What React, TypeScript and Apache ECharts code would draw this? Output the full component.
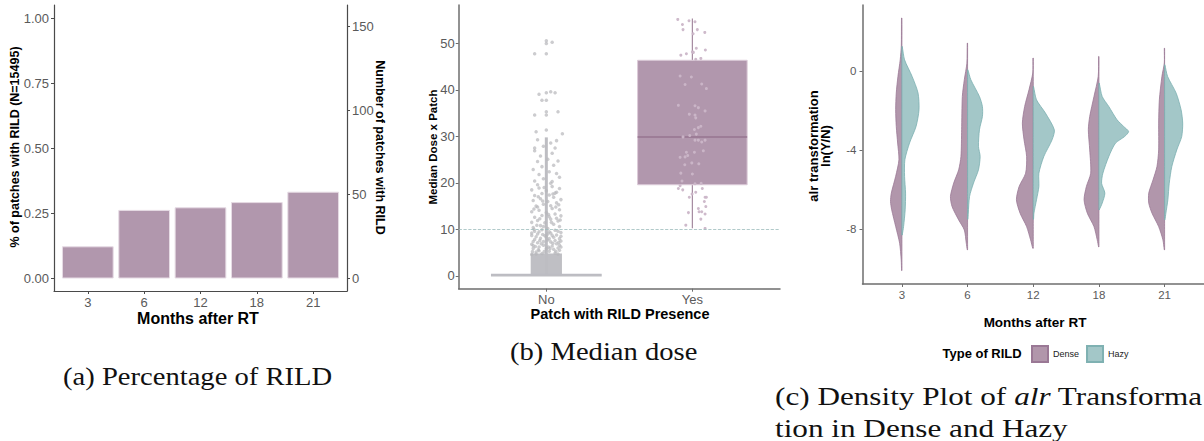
import React, { useEffect, useRef } from 'react';
import * as echarts from 'echarts';

// ---------- Panel (a): Percentage of RILD ----------
const months = ['3', '6', '12', '18', '21'];
const rildShare = [0.12, 0.26, 0.27, 0.29, 0.33]; // % of patches with RILD
const totalPatches = 15495;
const pctTicks = [0, 0.25, 0.5, 0.75, 1];
const countTicks = [0, 50, 100, 150];

// ---------- Panel (b): Median dose ----------
const presence = ['No', 'Yes'];
// [lower whisker, Q1, median, Q3, upper whisker]
const boxStats = [
  [0, 0, 0.15, 0.3, 29.8],
  [10.25, 19.6, 29.9, 46.4, 55.4],
];
const noDenseBlock = [0, 4.8, 0.107]; // y from, y to, jitter half-width
const doseThreshold = 10;
const doseTicks = [0, 10, 20, 30, 40, 50];
// jittered points [x offset, dose]
const noJitter = [
  [-0.10, 4.6], [-0.07, 5.1], [-0.03, 4.8], [0.02, 5.3], [0.06, 4.9], [0.09, 5.5], [-0.09, 5.9], [-0.05, 6.2],
  [0.0, 5.8], [0.04, 6.4], [0.08, 6.0], [-0.1, 6.8], [-0.06, 7.1], [-0.02, 6.6], [0.03, 7.3], [0.07, 6.9],
  [0.1, 7.5], [-0.08, 7.8], [-0.04, 8.1], [0.01, 7.7], [0.05, 8.3], [0.09, 8.0], [-0.1, 8.7], [-0.06, 9.0],
  [-0.01, 8.6], [0.03, 9.2], [0.07, 8.8], [-0.08, 9.6], [-0.03, 9.9], [0.02, 9.5], [0.06, 9.8], [0.1, 9.3],
  [-0.05, 5.4], [0.05, 5.7], [-0.09, 6.5], [0.09, 6.6], [-0.02, 7.4], [0.0, 8.4], [-0.07, 4.7], [0.08, 4.7],
  [-0.095, 5.2], [-0.055, 5.6], [-0.015, 5.2], [0.025, 5.9], [0.065, 5.3], [0.1, 6.2], [-0.075, 6.3], [-0.035, 6.9],
  [0.015, 6.2], [0.045, 7.0], [0.085, 7.2], [-0.09, 7.4], [-0.045, 7.6], [0.02, 8.0], [0.06, 7.6], [-0.07, 8.4],
  [-0.025, 8.9], [0.04, 8.7], [0.1, 8.5], [-0.1, 9.2], [-0.05, 9.5], [0.01, 9.0], [0.08, 9.6], [-0.085, 10.0],
  [-0.09, 10.4], [-0.04, 10.8], [0.01, 10.2], [0.05, 11.1], [0.09, 10.6], [-0.1, 11.5], [-0.06, 11.9], [-0.01, 11.4],
  [0.03, 12.2], [0.08, 11.8], [-0.08, 12.6], [-0.03, 13.0], [0.02, 12.7], [0.06, 13.3], [0.1, 12.9], [-0.1, 13.8],
  [-0.05, 14.1], [0.0, 13.6], [0.04, 14.5], [0.09, 14.2], [-0.07, 15.0], [-0.02, 15.4], [0.03, 15.1], [0.07, 15.7],
  [-0.09, 16.2], [-0.04, 16.6], [0.01, 16.0], [0.05, 16.9], [0.1, 16.4], [-0.08, 17.3], [-0.03, 17.7], [0.02, 17.4],
  [0.07, 18.0], [-0.1, 18.5], [-0.05, 18.9], [0.0, 18.3], [0.04, 19.2], [0.09, 18.8], [-0.06, 19.6], [0.03, 19.9],
  [-0.02, 10.6], [0.07, 12.4], [-0.06, 14.8], [0.06, 17.8], [-0.065, 10.9], [0.035, 11.5], [0.095, 12.0], [-0.045, 12.3],
  [0.015, 13.2], [-0.085, 14.4], [0.065, 14.8], [-0.025, 16.1], [0.085, 15.3], [-0.055, 17.0], [0.045, 17.6], [-0.015, 19.0],
  [-0.08, 20.4], [-0.02, 20.9], [0.04, 20.3], [0.09, 21.2], [-0.05, 21.8], [0.02, 22.4], [0.07, 22.0], [-0.09, 22.9],
  [-0.03, 23.5], [0.05, 23.8], [-0.06, 24.6], [0.01, 25.1], [0.08, 24.7], [-0.04, 25.8], [0.04, 26.4], [-0.08, 26.9],
  [0.06, 27.5], [-0.02, 27.9], [0.03, 28.6], [-0.06, 29.3], [0.07, 29.1], [0.11, 30.6], [-0.07, 31.0], [-0.08, 27.5],
  [0.0, 31.4], [0.0, 34.6], [0.0, 35.3], [0.0, 37.8], [0.0, 39.4], [0.0, 47.8], [0.0, 50.0], [0.0, 50.6],
  [-0.08, 47.8], [0.04, 50.3], [-0.05, 39.1], [0.06, 39.4], [-0.03, 37.8], [-0.08, 34.6], [0.08, 35.3], [0.03, 39.6],
];
const yesJitter = [
  [-0.10, 55.2], [-0.068, 54.1], [-0.064, 53.0], [-0.023, 54.9], [0.018, 54.7], [0.034, 53.0], [0.085, 52.4], [0.005, 52.1],
  [0.089, 48.6], [0.0, 48.2], [-0.079, 47.5], [-0.041, 47.8], [0.058, 46.8], [0.023, 46.6], [0.027, 49.0], [0.007, 48.1],
  [-0.084, 43.0], [-0.007, 42.8], [-0.05, 41.2], [0.064, 41.3], [0.096, 40.3], [-0.096, 36.7], [0.018, 36.6], [0.041, 36.2],
  [0.087, 35.5], [-0.021, 34.8], [0.018, 34.6], [0.023, 34.0], [0.058, 32.2], [0.041, 31.9], [0.014, 31.5], [0.027, 30.5],
  [-0.018, 30.2], [-0.064, 29.9], [0.018, 29.2], [0.041, 29.2], [0.064, 28.8], [0.087, 29.2], [0.075, 26.9], [-0.041, 26.6],
  [0.014, 26.6], [-0.032, 25.9], [-0.084, 25.5], [-0.05, 25.6], [-0.004, 24.3], [0.044, 24.1], [-0.052, 23.9], [-0.079, 22.1],
  [0.0, 21.9], [-0.071, 20.4], [0.018, 19.8], [0.06, 19.9], [-0.084, 19.4], [-0.096, 18.8], [-0.066, 18.5], [0.068, 18.8],
  [0.023, 18.0], [-0.002, 17.6], [-0.021, 16.9], [0.087, 16.9], [0.096, 16.9], [0.082, 16.0], [0.092, 14.9], [0.041, 14.5],
  [0.046, 13.8], [0.064, 13.8], [0.087, 13.3], [-0.027, 13.6], [0.058, 12.2], [-0.045, 10.9], [0.087, 10.2],
];

// ---------- Panel (c): split violins of alr transformation ----------
const alrTicks = [0, -4, -8];
// [alr value, density width] from top to bottom
const denseProfiles = [
  [[2.71, 0.4], [1.3, 0.6], [0.59, 1.7], [-0.25, 4], [-1.09, 5.7], [-1.94, 6.3], [-2.79, 5.7], [-3.63, 4.3], [-4.48, 3], [-5.32, 6.3], [-6.17, 10.7], [-6.6, 11.5], [-7.02, 10.3], [-7.86, 6.3], [-8.71, 2.3], [-9.56, 0.7], [-10.1, 0.3]],
  [[1.44, 0.3], [0.42, 0.7], [-0.42, 3.3], [-1.27, 5.3], [-2.96, 6], [-4.31, 6.7], [-4.99, 9], [-5.66, 14], [-6.34, 17.3], [-6.85, 15.7], [-7.53, 9], [-8.04, 3.3], [-8.71, 1.3], [-9.05, 0.3]],
  [[0.68, 0.3], [-0.08, 0.5], [-0.93, 4.3], [-1.78, 8.7], [-2.62, 11], [-3.47, 9.3], [-4.31, 6.7], [-5.16, 7.7], [-5.84, 14.3], [-6.51, 17], [-7.19, 13.3], [-7.87, 6.7], [-8.54, 2.7], [-8.97, 0.5]],
  [[0.76, 0.3], [-0.25, 0.7], [-1.27, 5], [-2.28, 9.3], [-2.96, 10.7], [-3.98, 9.3], [-5.16, 8.3], [-5.84, 12.7], [-6.51, 15], [-7.19, 11.7], [-7.87, 5], [-8.54, 1.7], [-8.9, 0.3]],
  [[1.18, 0.3], [0.43, 0.3], [-0.25, 2.7], [-1.44, 5.3], [-2.62, 6], [-3.98, 6], [-4.82, 7.7], [-5.5, 11.7], [-6.17, 16], [-6.68, 16], [-7.19, 12.7], [-7.87, 6], [-8.54, 1.7], [-9.05, 0.3]],
];
const hazyProfiles = [
  [[1.27, 0.3], [0.59, 2.7], [-0.25, 10.3], [-1.09, 16.3], [-1.94, 17.3], [-2.79, 14.3], [-3.63, 7.7], [-4.48, 3], [-5.32, 2.7], [-6.17, 3.7], [-7.02, 3.3], [-7.86, 1.7], [-8.3, 0.3]],
  [[0.09, 0.3], [-0.42, 3.3], [-1.27, 12], [-1.78, 15], [-2.28, 15], [-2.96, 12], [-3.8, 11], [-4.31, 12.7], [-4.99, 11], [-5.66, 6], [-6.34, 2], [-7.19, 0.7], [-7.5, 0.3]],
  [[-0.76, 0.3], [-1.44, 3.3], [-2.11, 12.3], [-2.96, 21.3], [-3.47, 19], [-4.31, 10.7], [-5.16, 5.7], [-5.84, 5.7], [-6.51, 3.3], [-7.19, 0.7], [-7.5, 0.3]],
  [[-0.59, 0.3], [-1.27, 3.3], [-1.78, 10], [-2.45, 18.3], [-2.79, 25], [-3.05, 30], [-3.3, 26], [-3.64, 16.7], [-4.31, 10], [-5.16, 4], [-5.67, 2.7], [-6.17, 6], [-6.68, 3.3], [-7.02, 0.3]],
  [[0.34, 0.3], [-0.25, 3], [-1.1, 11.7], [-1.95, 16.7], [-2.62, 18.3], [-3.3, 17.3], [-3.98, 12.3], [-4.82, 7.3], [-5.67, 4.7], [-6.51, 3.3], [-7.19, 1.3], [-7.53, 0.3]],
];
const rildTypes = ['Dense', 'Hazy'];

// ---------- styling ----------
const SANS = 'Liberation Sans, Arial, sans-serif';
const SERIF = 'Liberation Serif, Times New Roman, serif';
const MAUVE = '#b197ad';
const TEAL = '#a3c7c8';
const LABEL = '#5a5a5a';
const DENSITY_SCALE = 1 / 66.4;

function valueAxis(gridIndex: number, min: number, max: number, ticks: number[], fmt: (v: number) => string, extra: any = {}) {
  const color = extra.axisColor ?? '#4a4a4a';
  return {
    type: 'value',
    gridIndex, min, max,
    axisLine: { show: true, onZero: false, lineStyle: { color, width: extra.axisWidth ?? 1.2 } },
    axisTick: { show: true, length: 3, customValues: ticks, lineStyle: { color, width: 1 } },
    splitLine: { show: false },
    axisLabel: {
      color: LABEL, fontFamily: SANS, fontSize: extra.fontSize ?? 13, margin: extra.margin ?? 5,
      customValues: ticks, formatter: fmt,
    },
    ...(extra.position ? { position: extra.position } : {}),
  };
}

function violinRender(profiles: number[][][], side: number, fill: string, stroke: string) {
  return (params: any, api: any) => {
    const i = params.dataIndex;
    const prof = profiles[i];
    const outer = prof.map(([v, w]) => api.coord([i + side * w * DENSITY_SCALE, v]));
    const inner = prof.slice().reverse().map(([v]) => api.coord([i, v]));
    return {
      type: 'polygon',
      shape: { points: [...outer, ...inner], smooth: 0.25 },
      style: { fill, stroke, lineWidth: 0.8 },
    };
  };
}

export default function App() {
  const ref = useRef<HTMLDivElement>(null);
  useEffect(() => {
    if (!ref.current) return;
    const chart = echarts.init(ref.current, null, { renderer: 'svg' });
    const pctToCount = totalPatches / 100;
    const monthPos1 = months.map((_, i) => i + 1);
    const monthPos0 = months.map((_, i) => i);
    const greyAxis = { axisColor: '#6e6e6e', axisWidth: 1.5 };

    const option: any = {
      animation: false,
      backgroundColor: '#ffffff',
      textStyle: { fontFamily: SANS },
      grid: [
        { left: 54, top: 5, width: 293, height: 286 },
        { left: 458.7, top: 5, width: 321.3, height: 283.7 },
        { left: 862.5, top: 5, width: 345, height: 279 },
      ],
      xAxis: [
        valueAxis(0, 0.4, 5.6, monthPos1, (v) => months[Math.round(v) - 1] ?? '', { margin: 5 }),
        valueAxis(1, 0.4, 2.6, [1, 2], (v) => presence[Math.round(v) - 1] ?? '', { margin: 4, ...greyAxis }),
        valueAxis(2, -0.6, 4.6, monthPos0, (v) => months[Math.round(v)] ?? '', { fontSize: 11.5, margin: 5, ...greyAxis }),
      ],
      yAxis: [
        valueAxis(0, -0.05, 1.05, pctTicks, (v) => v.toFixed(2), { margin: 5 }),
        valueAxis(0, -0.05 * pctToCount, 1.05 * pctToCount, countTicks, (v) => String(Math.round(v)), { margin: 5, position: 'right' }),
        valueAxis(1, -2.78, 58.3, doseTicks, (v) => String(Math.round(v)), { margin: 4, ...greyAxis }),
        valueAxis(2, -10.78, 3.37, alrTicks, (v) => String(Math.round(v)), { fontSize: 11.5, margin: 6, ...greyAxis }),
      ],
      legend: {
        data: rildTypes,
        left: 1031, top: 345, padding: 0,
        itemWidth: 16, itemHeight: 16, itemGap: 7,
        icon: 'rect',
        selectedMode: false,
        textStyle: { fontFamily: SANS, fontSize: 9, color: '#222' },
      },
      series: [
        // (a) bars
        {
          type: 'custom', name: 'share', xAxisIndex: 0, yAxisIndex: 0,
          data: rildShare.map((v, i) => [i + 1, v]),
          encode: { x: 0, y: 1 },
          renderItem: (params: any, api: any) => {
            const x = api.value(0), v = api.value(1);
            const p0 = api.coord([x - 0.45, v]);
            const p1 = api.coord([x + 0.45, 0]);
            return {
              type: 'rect',
              shape: { x: p0[0], y: p0[1], width: p1[0] - p0[0], height: p1[1] - p0[1] },
              style: { fill: MAUVE, stroke: '#e6dbe4', lineWidth: 1 },
            };
          },
        },
        // (b) dense jitter block for "No"
        {
          type: 'custom', name: 'noBlock', xAxisIndex: 1, yAxisIndex: 2,
          data: [[1, noDenseBlock[0], noDenseBlock[1], noDenseBlock[2]]],
          encode: { x: 0, y: [1, 2] },
          renderItem: (params: any, api: any) => {
            const x = api.value(0);
            const hw = api.value(3);
            const p0 = api.coord([x - hw, api.value(2)]);
            const p1 = api.coord([x + hw, api.value(1)]);
            return {
              type: 'rect',
              shape: { x: p0[0], y: p0[1], width: p1[0] - p0[0], height: p1[1] - p0[1] },
              style: { fill: '#bfbfc4' },
            };
          },
        },
        // (b) boxplots
        {
          type: 'custom', name: 'box', xAxisIndex: 1, yAxisIndex: 2,
          data: boxStats.map((s, i) => [i + 1, ...s]),
          encode: { x: 0, y: [1, 5] },
          renderItem: (params: any, api: any) => {
            const x = api.value(0);
            const lo = api.value(1), q1 = api.value(2), med = api.value(3), q3 = api.value(4), hi = api.value(5);
            const yes = params.dataIndex === 1;
            const half = 0.375;
            const tl = api.coord([x - half, q3]);
            const br = api.coord([x + half, q1]);
            const cx = api.coord([x, med])[0];
            const yMed = api.coord([x, med])[1];
            const yLo = api.coord([x, lo])[1];
            const yHi = api.coord([x, hi])[1];
            const wColor = yes ? '#a58aa0' : '#bdbdc2';
            const wWidth = yes ? 1.2 : 3;
            return {
              type: 'group',
              children: [
                { type: 'line', shape: { x1: cx, y1: yHi, x2: cx, y2: tl[1] }, style: { stroke: wColor, lineWidth: wWidth } },
                { type: 'line', shape: { x1: cx, y1: br[1], x2: cx, y2: yLo }, style: { stroke: wColor, lineWidth: wWidth } },
                {
                  type: 'rect',
                  shape: { x: tl[0], y: tl[1], width: br[0] - tl[0], height: Math.max(br[1] - tl[1], 1) },
                  style: yes
                    ? { fill: MAUVE, stroke: '#dccbd8', lineWidth: 1 }
                    : { fill: '#bdbdc2', stroke: '#bdbdc2', lineWidth: 1.2 },
                },
                {
                  type: 'line', shape: { x1: tl[0], y1: yMed, x2: br[0], y2: yMed },
                  style: { stroke: yes ? '#977591' : '#bdbdc2', lineWidth: 1.5 },
                },
              ],
            };
          },
        },
        // (b) jittered points
        {
          type: 'scatter', name: 'No points', xAxisIndex: 1, yAxisIndex: 2,
          data: noJitter.map(([dx, y]) => [1 + dx, y]),
          symbolSize: 3.5,
          itemStyle: { color: '#b6b6bb', opacity: 0.7 },
          markLine: {
            silent: true, symbol: 'none', label: { show: false },
            lineStyle: { color: '#9dbcbc', type: 'dashed', width: 0.8 },
            data: [{ yAxis: doseThreshold }],
          },
        },
        {
          type: 'scatter', name: 'Yes points', xAxisIndex: 1, yAxisIndex: 2,
          data: yesJitter.map(([dx, y]) => [2 + dx, y]),
          symbolSize: 3,
          itemStyle: { color: '#cbb6c8', opacity: 0.95 },
        },
        // (c) split violins
        {
          type: 'custom', name: 'Dense', xAxisIndex: 2, yAxisIndex: 3,
          data: months.map((_, i) => [i, 0]),
          encode: { x: 0, y: 1 },
          itemStyle: { color: '#b196ab', borderColor: '#9a7895', borderWidth: 1 },
          renderItem: violinRender(denseProfiles, -1, '#b196ab', '#9a7895'),
        },
        {
          type: 'custom', name: 'Hazy', xAxisIndex: 2, yAxisIndex: 3,
          data: months.map((_, i) => [i, 0]),
          encode: { x: 0, y: 1 },
          itemStyle: { color: TEAL, borderColor: '#7fb1b2', borderWidth: 1 },
          renderItem: violinRender(hazyProfiles, 1, TEAL, '#7aafb0'),
        },
      ],
      graphic: [
        // axis titles (a)
        { type: 'text', x: 15, y: 147, rotation: Math.PI / 2, style: { text: '% of patches with RILD (N=15495)', font: `bold 12.5px ${SANS}`, fill: '#000', align: 'center', verticalAlign: 'middle' } },
        { type: 'text', x: 380, y: 147.5, rotation: -Math.PI / 2, style: { text: 'Number of patches with RILD', font: `bold 12.5px ${SANS}`, fill: '#000', align: 'center', verticalAlign: 'middle' } },
        { type: 'text', x: 198, y: 318, style: { text: 'Months after RT', font: `bold 16px ${SANS}`, fill: '#000', align: 'center', verticalAlign: 'middle' } },
        // axis titles (b)
        { type: 'text', x: 433, y: 147, rotation: Math.PI / 2, style: { text: 'Median Dose x Patch', font: `bold 11.5px ${SANS}`, fill: '#000', align: 'center', verticalAlign: 'middle' } },
        { type: 'text', x: 620, y: 313.5, style: { text: 'Patch with RILD Presence', font: `bold 14.5px ${SANS}`, fill: '#000', align: 'center', verticalAlign: 'middle' } },
        // axis titles (c)
        { type: 'text', x: 819, y: 146, rotation: Math.PI / 2, style: { text: 'alr transformation\nln(Y/N)', font: `bold 13px ${SANS}`, lineHeight: 12, fill: '#000', align: 'center', verticalAlign: 'middle' } },
        { type: 'text', x: 1035, y: 322.5, style: { text: 'Months after RT', font: `bold 13.5px ${SANS}`, fill: '#000', align: 'center', verticalAlign: 'middle' } },
        { type: 'text', x: 942.5, y: 353.5, style: { text: 'Type of RILD', font: `bold 13px ${SANS}`, fill: '#000', align: 'left', verticalAlign: 'middle' } },
        // captions
        { type: 'text', x: 63, y: 376, scaleX: 1.1, style: { text: '(a) Percentage of RILD', font: `26px ${SERIF}`, fill: '#111', align: 'left', verticalAlign: 'middle' } },
        { type: 'text', x: 510, y: 351, scaleX: 1.1, style: { text: '(b) Median dose', font: `26px ${SERIF}`, fill: '#111', align: 'left', verticalAlign: 'middle' } },
        {
          type: 'text', x: 775, y: 396, scaleX: 1.2,
          style: {
            text: '{n|(c) Density Plot of }{i|alr}{n| Transforma}',
            rich: {
              n: { font: `26px ${SERIF}`, fill: '#111' },
              i: { font: `italic 26px ${SERIF}`, fill: '#111' },
            },
            align: 'left', verticalAlign: 'middle',
          },
        },
        { type: 'text', x: 775, y: 428, scaleX: 1.2, style: { text: 'tion in Dense and Hazy', font: `26px ${SERIF}`, fill: '#111', align: 'left', verticalAlign: 'middle' } },
      ],
    };
    chart.setOption(option);
    return () => chart.dispose();
  }, []);
  return <div ref={ref} style={{ position: 'absolute', left: 0, top: 0, width: 1204, height: 441, background: '#fff' }} />;
}
